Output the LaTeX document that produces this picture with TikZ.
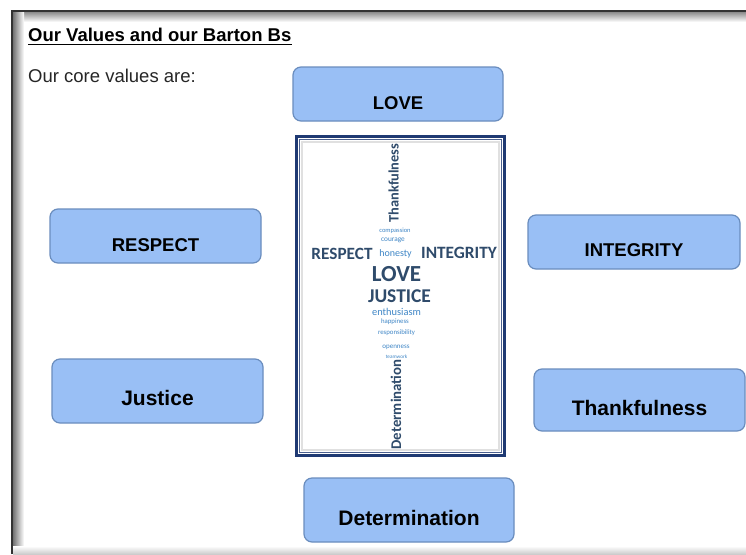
\documentclass[tikz,border=0pt]{standalone}
\usepackage{fontspec}
\setmainfont{Liberation Sans}
\newfontfamily\cloudfont{Carlito}
\usetikzlibrary{calc}
\definecolor{boxfill}{HTML}{99BFF5}
\definecolor{boxline}{HTML}{6A8DBE}
\definecolor{navy}{HTML}{1F3A73}
\definecolor{darkword}{HTML}{2F4B6B}
\definecolor{lightword}{HTML}{3F86C6}
\tikzset{
  valbox/.style={draw=boxline, fill=boxfill, line width=1.2pt, rounded corners=8pt, minimum width=211pt, inner sep=0pt},
  valtxt/.style={font=\bfseries\fontsize{18.5}{20}\selectfont, text=black, inner sep=0pt},
  valtxtb/.style={font=\bfseries\fontsize{21}{23}\selectfont, text=black, inner sep=0pt},
  dw/.style={text=darkword, inner sep=0pt, font=\cloudfont\bfseries\fontsize{#1}{#1}\selectfont},
  lw/.style={text=lightword, inner sep=0pt, font=\cloudfont\fontsize{#1}{#1}\selectfont},
}
\begin{document}
\begin{tikzpicture}[x=1pt,y=-1pt]
\useasboundingbox (0,0) rectangle (746,554);
\fill[white] (0,0) rectangle (746,554);
% page frame with shadow
\shade[top color=black!45, bottom color=white] (13,12) rectangle (746,22);
\shade[left color=black!55, right color=white] (13,12) rectangle (24,554);
\shade[top color=white, bottom color=black!20] (13,546) rectangle (746,554);
\draw[line width=2pt, black!80] (12,554) -- (12,11) -- (746,11);
% header
\node[anchor=base west, inner sep=0pt, font=\bfseries\fontsize{18.5}{20}\selectfont] (hdr) at (28,41) {Our Values and our Barton Bs};
\draw[line width=1.5pt] ([yshift=-3.5pt]hdr.base west) -- ([yshift=-3.5pt]hdr.base east);
\node[anchor=base west, inner sep=0pt, font=\fontsize{18.5}{20}\selectfont, text=black!85] (sub) at (28,82) {Our core values are:};
% value boxes
\node[valbox, minimum width=210pt, minimum height=54pt] (love) at (398,94) {};
\node[valtxt] (lovet) at ([yshift=-9pt]love.center) {LOVE};
\node[valbox, minimum height=54pt] (resp) at (155.5,236) {};
\node[valtxt] (respt) at ([yshift=-9pt]resp.center) {RESPECT};
\node[valbox, minimum width=212pt, minimum height=54pt] (integ) at (634,242) {};
\node[valtxt] (integt) at ([yshift=-8pt]integ.center) {INTEGRITY};
\node[valbox, minimum height=64pt] (just) at (157.5,391) {};
\node[valtxtb] (justt) at ([yshift=-7pt]just.center) {Justice};
\node[valbox, minimum height=62pt] (thank) at (639.5,400) {};
\node[valtxtb] (thankt) at ([yshift=-8pt]thank.center) {Thankfulness};
\node[valbox, minimum width=210pt, minimum height=64pt] (det) at (409,510) {};
\node[valtxtb] (dett) at ([yshift=-8pt]det.center) {Determination};
% word cloud picture
\node[draw=navy, line width=2.5pt, minimum width=208pt, minimum height=319pt, inner sep=0pt, fill=white] (pic) at (400.5,296) {};
\draw[navy!80, line width=1pt] ($(pic.north west)+(4,4)$) rectangle ($(pic.south east)+(-4,-4)$);
\draw[black!12, line width=2pt] ($(pic.north west)+(6.5,6.5)$) rectangle ($(pic.south east)+(-6.5,-6.5)$);
% words
\node[dw=14.4, rotate=90] (w1) at (393.5,183) {Thankfulness};
\node[lw=6.5] (w2) at (395,231) {compassion};
\node[lw=7.3] (w3) at (393,240) {courage};
\node[dw=17.2] (w4) at (342,254) {RESPECT};
\node[lw=10] (w5) at (395.5,254) {honesty};
\node[dw=17.3] (w6) at (459,253) {INTEGRITY};
\node[dw=23] (w7) at (396.5,274) {LOVE};
\node[dw=19.5] (w8) at (399.5,296) {JUSTICE};
\node[lw=10.4] (w9) at (396.5,312) {enthusiasm};
\node[lw=6.8] (w10) at (395,322) {happiness};
\node[lw=6.8] (w11) at (396.5,333) {responsibility};
\node[lw=7] (w12) at (396,347) {openness};
\node[lw=5.2] (w13) at (396.5,357) {teamwork};
\node[dw=14.8, rotate=90] (w14) at (396,404.5) {Determination};
\end{tikzpicture}
\end{document}
